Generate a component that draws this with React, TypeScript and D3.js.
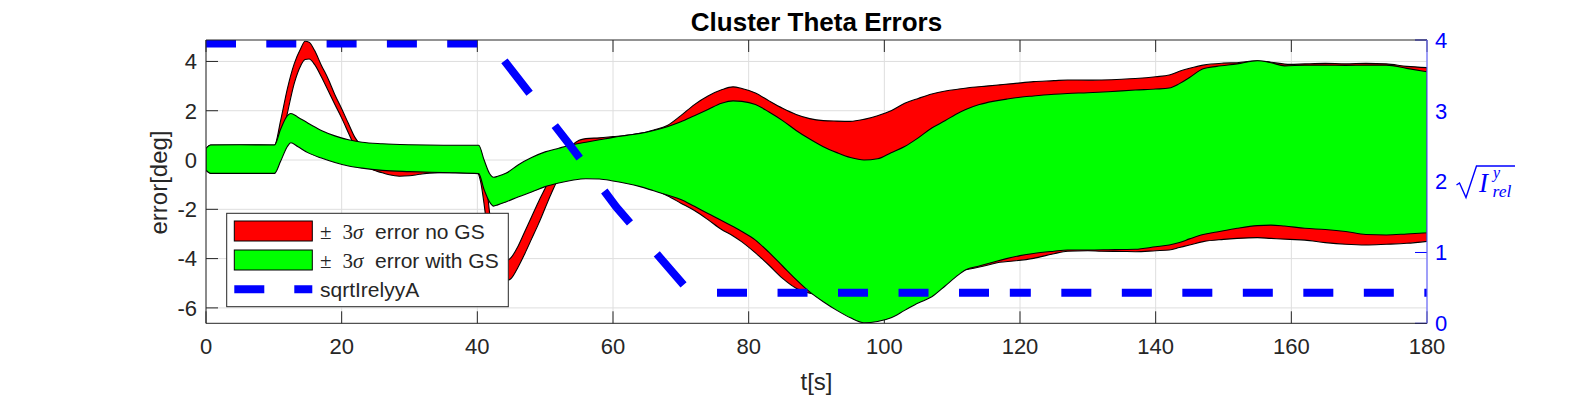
import React, { useEffect, useRef } from 'react';
import * as d3 from 'd3';

// ---- data ----
const redTime = [0, 0.7, 5, 10.1, 11, 12, 13, 14, 14.6, 15.2, 16, 17, 18, 19, 20, 21, 22, 23, 24, 26, 27, 28.5, 30, 31.5, 33, 36, 40, 40.5, 41, 41.5, 42, 42.5, 43, 44, 44.6, 45, 46, 47, 48, 49, 50, 51, 52, 53, 54, 55, 56, 58, 60, 62, 64, 66, 68, 70, 72, 74, 76, 77.7, 79, 81, 83, 85, 87, 89, 91, 93, 95, 97, 99, 101, 103, 105, 107, 109, 111, 113, 115, 117, 119, 122, 125, 127, 130, 132, 135, 137, 140, 142, 143.5, 145, 147, 150, 152, 155, 157, 159.8, 162, 165, 168, 171, 174, 177, 180];
const redUpper = [0.47, 0.61, 0.61, 0.61, 1.6, 2.9, 3.9, 4.55, 4.82, 4.78, 4.45, 3.85, 3.3, 2.65, 2.08, 1.48, 0.9, 0.6, 0.55, 0.55, 0.55, 0.55, 0.55, 0.55, 0.55, 0.55, 0.55, 0.3, -0.4, -1.4, -2.6, -3.5, -3.95, -4.1, -4.05, -3.95, -3.5, -2.9, -2.3, -1.7, -1.15, -0.6, -0.15, 0.25, 0.6, 0.8, 0.87, 0.9, 0.95, 1.0, 1.08, 1.22, 1.4, 1.8, 2.25, 2.6, 2.85, 2.97, 2.9, 2.72, 2.4, 2.1, 1.85, 1.68, 1.6, 1.58, 1.57, 1.65, 1.8, 2.0, 2.3, 2.5, 2.68, 2.8, 2.88, 2.95, 3.0, 3.05, 3.1, 3.18, 3.22, 3.25, 3.24, 3.25, 3.28, 3.31, 3.38, 3.45, 3.6, 3.72, 3.85, 3.93, 3.95, 4.03, 3.97, 3.88, 3.9, 3.92, 3.9, 3.92, 3.9, 3.8, 3.75];
const redLower = [-0.41, -0.54, -0.54, -0.54, 0.6, 1.9, 3.1, 3.85, 4.08, 4.1, 3.88, 3.38, 2.82, 2.25, 1.7, 1.1, 0.5, 0.0, -0.3, -0.52, -0.6, -0.66, -0.64, -0.58, -0.53, -0.5, -0.52, -0.9, -1.8, -2.9, -3.8, -4.4, -4.7, -4.87, -4.87, -4.8, -4.35, -3.8, -3.2, -2.6, -1.95, -1.3, -0.75, -0.55, -0.6, -0.6, -0.62, -0.7, -0.8, -0.9, -1.0, -1.2, -1.45, -1.75, -2.05, -2.42, -2.82, -3.08, -3.32, -3.77, -4.27, -4.8, -5.2, -5.4, -5.5, -5.55, -5.6, -5.55, -5.45, -5.3, -5.1, -4.95, -4.8, -4.62, -4.5, -4.4, -4.28, -4.15, -4.1, -3.99, -3.8, -3.7, -3.68, -3.7, -3.71, -3.72, -3.68, -3.65, -3.55, -3.45, -3.31, -3.22, -3.18, -3.15, -3.18, -3.22, -3.25, -3.35, -3.42, -3.45, -3.42, -3.38, -3.3];

const greenTime = [0, 0.7, 5, 10.1, 11, 12, 12.5, 13.5, 15, 17, 19, 21, 23, 26, 30, 35, 40.2, 41, 41.8, 42.4, 43, 44.2, 46, 48, 50, 52, 54, 56, 58, 60, 62, 64, 66, 68, 70, 72, 74, 76, 77.7, 79, 81, 83, 85, 87, 89, 91, 93, 95, 97, 99, 101, 103, 105, 107, 109, 110.5, 112, 114, 116, 118, 120, 122, 125, 127, 130, 133, 137, 140, 142, 143.5, 145, 147, 149, 152, 155, 157, 159, 162, 165, 168, 171, 174, 177, 180];
const greenUpper = [0.47, 0.61, 0.62, 0.61, 1.25, 1.8, 1.89, 1.75, 1.5, 1.2, 0.98, 0.82, 0.72, 0.66, 0.62, 0.6, 0.6, 0.0, -0.55, -0.7, -0.66, -0.54, -0.2, 0.1, 0.33, 0.48, 0.62, 0.72, 0.82, 0.92, 1.0, 1.08, 1.2, 1.35, 1.55, 1.8, 2.05, 2.3, 2.4, 2.38, 2.25, 1.95, 1.6, 1.2, 0.85, 0.54, 0.3, 0.1, 0.0, 0.05, 0.3, 0.55, 0.9, 1.3, 1.6, 1.85, 2.05, 2.25, 2.38, 2.47, 2.55, 2.6, 2.67, 2.7, 2.73, 2.77, 2.84, 2.88, 2.92, 3.1, 3.35, 3.7, 3.8, 3.9, 4.03, 3.95, 3.82, 3.85, 3.85, 3.84, 3.85, 3.85, 3.72, 3.58];
const greenLower = [-0.41, -0.54, -0.54, -0.54, -0.05, 0.55, 0.7, 0.55, 0.3, 0.08, -0.1, -0.24, -0.33, -0.42, -0.47, -0.51, -0.55, -1.2, -1.7, -1.87, -1.82, -1.7, -1.5, -1.3, -1.08, -0.93, -0.82, -0.76, -0.77, -0.85, -0.95, -1.08, -1.25, -1.42, -1.6, -1.88, -2.17, -2.45, -2.7, -2.9, -3.25, -3.75, -4.3, -4.85, -5.35, -5.75, -6.1, -6.4, -6.6, -6.55, -6.4, -6.1, -5.8, -5.55, -5.1, -4.75, -4.45, -4.3, -4.15, -4.0, -3.88, -3.79, -3.7, -3.65, -3.65, -3.64, -3.62, -3.52, -3.45, -3.35, -3.2, -3.02, -2.92, -2.77, -2.66, -2.64, -2.68, -2.77, -2.82, -2.9, -3.02, -3.04, -3.0, -2.95];

const gainTime = [0, 42, 53.3, 60.5, 71.4, 118.5, 180];
const gainValue = [3.95, 3.95, 2.56, 1.64, 0.43, 0.43, 0.43];
// where the plotted dash pattern restarts in the reference
const dashBreaks = [42, 71.4, 118.5];

const xTicks = [0, 20, 40, 60, 80, 100, 120, 140, 160, 180];
const yTicks = [-6, -4, -2, 0, 2, 4];
const y2Ticks = [0, 1, 2, 3, 4];
const legendLabels = ['error no GS', 'error with GS', 'sqrtIrelyyA'];

const W = 1578;
const H = 395;
const m = { left: 206, right: 1427, top: 40, bottom: 323.3 };
const FONT = '"Liberation Sans", Arial, Helvetica, sans-serif';
const SERIF = '"Liberation Serif", "DejaVu Serif", "Times New Roman", serif';
const AX = '#262626';
const BLUE = '#0000ff';

export default function App() {
  const svgRef = useRef<SVGSVGElement>(null);

  useEffect(() => {
    const svg = d3.select(svgRef.current);
    svg.selectAll('*').remove();

    const x = d3.scaleLinear().domain([0, 180]).range([m.left, m.right]);
    const y = d3.scaleLinear().domain([-6.625, 4.87]).range([m.bottom, m.top]);
    const y2 = d3.scaleLinear().domain([0, 4]).range([m.bottom, m.top]);

    svg.append('rect').attr('width', W).attr('height', H).attr('fill', '#fff');

    // grid (under data, like MATLAB Layer=bottom)
    const grid = svg.append('g').attr('stroke', '#dedede').attr('stroke-width', 1);
    xTicks.forEach(t => grid.append('line')
      .attr('x1', x(t)).attr('x2', x(t)).attr('y1', m.top).attr('y2', m.bottom));
    yTicks.forEach(v => grid.append('line')
      .attr('x1', m.left).attr('x2', m.right).attr('y1', y(v)).attr('y2', y(v)));

    // tick marks
    const ticks = svg.append('g').attr('stroke', AX).attr('stroke-width', 1);
    xTicks.forEach(t => {
      ticks.append('line').attr('x1', x(t)).attr('x2', x(t)).attr('y1', m.bottom).attr('y2', m.bottom - 12);
      ticks.append('line').attr('x1', x(t)).attr('x2', x(t)).attr('y1', m.top).attr('y2', m.top + 12);
    });
    yTicks.forEach(v => ticks.append('line')
      .attr('x1', m.left).attr('x2', m.left + 12).attr('y1', y(v)).attr('y2', y(v)));
    y2Ticks.forEach(v => svg.append('line').attr('stroke', BLUE)
      .attr('x1', m.right).attr('x2', m.right - 12).attr('y1', y2(v)).attr('y2', y2(v)));

    // clip
    svg.append('clipPath').attr('id', 'plotclip').append('rect')
      .attr('x', m.left).attr('y', m.top).attr('width', m.right - m.left).attr('height', m.bottom - m.top);
    const plot = svg.append('g').attr('clip-path', 'url(#plotclip)');

    const band = (ts: number[], lo: number[], hi: number[]) =>
      d3.area<number>()
        .x((_, i) => x(ts[i]))
        .y0((_, i) => y(lo[i]))
        .y1((_, i) => y(hi[i]))
        .curve(d3.curveMonotoneX)(ts);

    plot.append('path').attr('d', band(redTime, redLower, redUpper))
      .attr('fill', '#ff0000').attr('stroke', '#000').attr('stroke-width', 1.1);
    plot.append('path').attr('d', band(greenTime, greenLower, greenUpper))
      .attr('fill', '#00ff00').attr('stroke', '#000').attr('stroke-width', 1.1);

    // dashed gain line, drawn piecewise so the dash phase follows the reference
    const gainLine = d3.line<[number, number]>().x(d => x(d[0])).y(d => y2(d[1]));
    const pts: [number, number][] = gainTime.map((t, i) => [t, gainValue[i]]);
    const edges = [0, ...dashBreaks, 180];
    const dashStyle = [
      { arr: '30,30.3', off: 0 },
      { arr: '41,41', off: 60 },
      { arr: '30,30.5', off: 33.8 },
      { arr: '30,30.5', off: 9 },
    ];
    for (let k = 0; k < edges.length - 1; k++) {
      const seg = pts.filter(p => p[0] >= edges[k] && p[0] <= edges[k + 1]);
      plot.append('path').attr('d', gainLine(seg))
        .attr('fill', 'none').attr('stroke', BLUE).attr('stroke-width', 8)
        .attr('stroke-dasharray', dashStyle[k].arr)
        .attr('stroke-dashoffset', dashStyle[k].off);
    }

    // axes box
    svg.append('line').attr('x1', m.left).attr('x2', m.right).attr('y1', m.top).attr('y2', m.top).attr('stroke', AX);
    svg.append('line').attr('x1', m.left).attr('x2', m.right).attr('y1', m.bottom).attr('y2', m.bottom).attr('stroke', AX);
    svg.append('line').attr('x1', m.left).attr('x2', m.left).attr('y1', m.top).attr('y2', m.bottom).attr('stroke', AX);
    svg.append('line').attr('x1', m.right).attr('x2', m.right).attr('y1', m.top).attr('y2', m.bottom)
      .attr('stroke', '#6a6aff').attr('stroke-width', 1.2);

    // tick labels
    const tl = svg.append('g').attr('font-family', FONT).attr('font-size', 22).attr('fill', AX);
    xTicks.forEach(t => tl.append('text').attr('x', x(t)).attr('y', 354)
      .attr('text-anchor', 'middle').text(String(t)));
    yTicks.forEach(v => tl.append('text').attr('x', 197).attr('y', y(v) + 7.8)
      .attr('text-anchor', 'end').text(String(v)));
    y2Ticks.forEach(v => svg.append('text').attr('x', 1435).attr('y', y2(v) + 7.8)
      .attr('font-family', FONT).attr('font-size', 22).attr('fill', BLUE).text(String(v)));

    // titles
    svg.append('text').attr('x', (m.left + m.right) / 2).attr('y', 31)
      .attr('text-anchor', 'middle').attr('font-family', FONT).attr('font-size', 26)
      .attr('font-weight', 'bold').attr('fill', '#000').text('Cluster Theta Errors');
    svg.append('text').attr('x', (m.left + m.right) / 2).attr('y', 390)
      .attr('text-anchor', 'middle').attr('font-family', FONT).attr('font-size', 24)
      .attr('fill', AX).text('t[s]');
    svg.append('text').attr('transform', 'translate(167,182.5) rotate(-90)')
      .attr('text-anchor', 'middle').attr('font-family', FONT).attr('font-size', 24)
      .attr('fill', AX).text('error[deg]');

    // right label: sqrt(I^y_rel)
    const rl = svg.append('g').attr('fill', BLUE);
    rl.append('path').attr('d', 'M1456.5,185 L1459.5,183 L1466,197.5 L1476.5,166 L1515,166')
      .attr('fill', 'none').attr('stroke', BLUE).attr('stroke-width', 1.4);
    rl.append('text').attr('x', 1479).attr('y', 191.5).attr('font-family', SERIF)
      .attr('font-style', 'italic').attr('font-size', 27).text('I');
    rl.append('text').attr('x', 1493).attr('y', 178).attr('font-family', SERIF)
      .attr('font-style', 'italic').attr('font-size', 16).text('y');
    rl.append('text').attr('x', 1492.5).attr('y', 196.5).attr('font-family', SERIF)
      .attr('font-style', 'italic').attr('font-size', 17.5).text('rel');

    // legend
    const lg = svg.append('g');
    lg.append('rect').attr('x', 226.7).attr('y', 213.3).attr('width', 281.6).attr('height', 93.4)
      .attr('fill', '#fff').attr('stroke', AX).attr('stroke-width', 1);
    const rows = [231, 260, 289.3];
    lg.append('rect').attr('x', 234.3).attr('y', rows[0] - 10).attr('width', 78).attr('height', 20)
      .attr('fill', '#ff0000').attr('stroke', '#000');
    lg.append('rect').attr('x', 234.3).attr('y', rows[1] - 10).attr('width', 78).attr('height', 20)
      .attr('fill', '#00ff00').attr('stroke', '#000');
    lg.append('line').attr('x1', 234.3).attr('x2', 312.3).attr('y1', rows[2]).attr('y2', rows[2])
      .attr('stroke', BLUE).attr('stroke-width', 8).attr('stroke-dasharray', '30,30');
    legendLabels.forEach((lab, i) => {
      const t = lg.append('text').attr('y', rows[i] + 7.5).attr('font-size', 21).attr('fill', AX);
      if (i < 2) {
        t.append('tspan').attr('x', 320).attr('font-family', SERIF).text('\u00b1');
        t.append('tspan').attr('x', 342.5).attr('font-family', SERIF).text('3');
        t.append('tspan').attr('x', 353).attr('font-family', SERIF).attr('font-style', 'italic').text('\u03c3');
        t.append('tspan').attr('x', 375).attr('font-family', FONT).text(lab);
      } else {
        t.append('tspan').attr('x', 320).attr('font-family', FONT).text(lab);
      }
    });
  }, []);

  return (
    <svg ref={svgRef} width={W} height={H}
      style={{ position: 'absolute', left: 0, top: 0, display: 'block' }} />
  );
}
